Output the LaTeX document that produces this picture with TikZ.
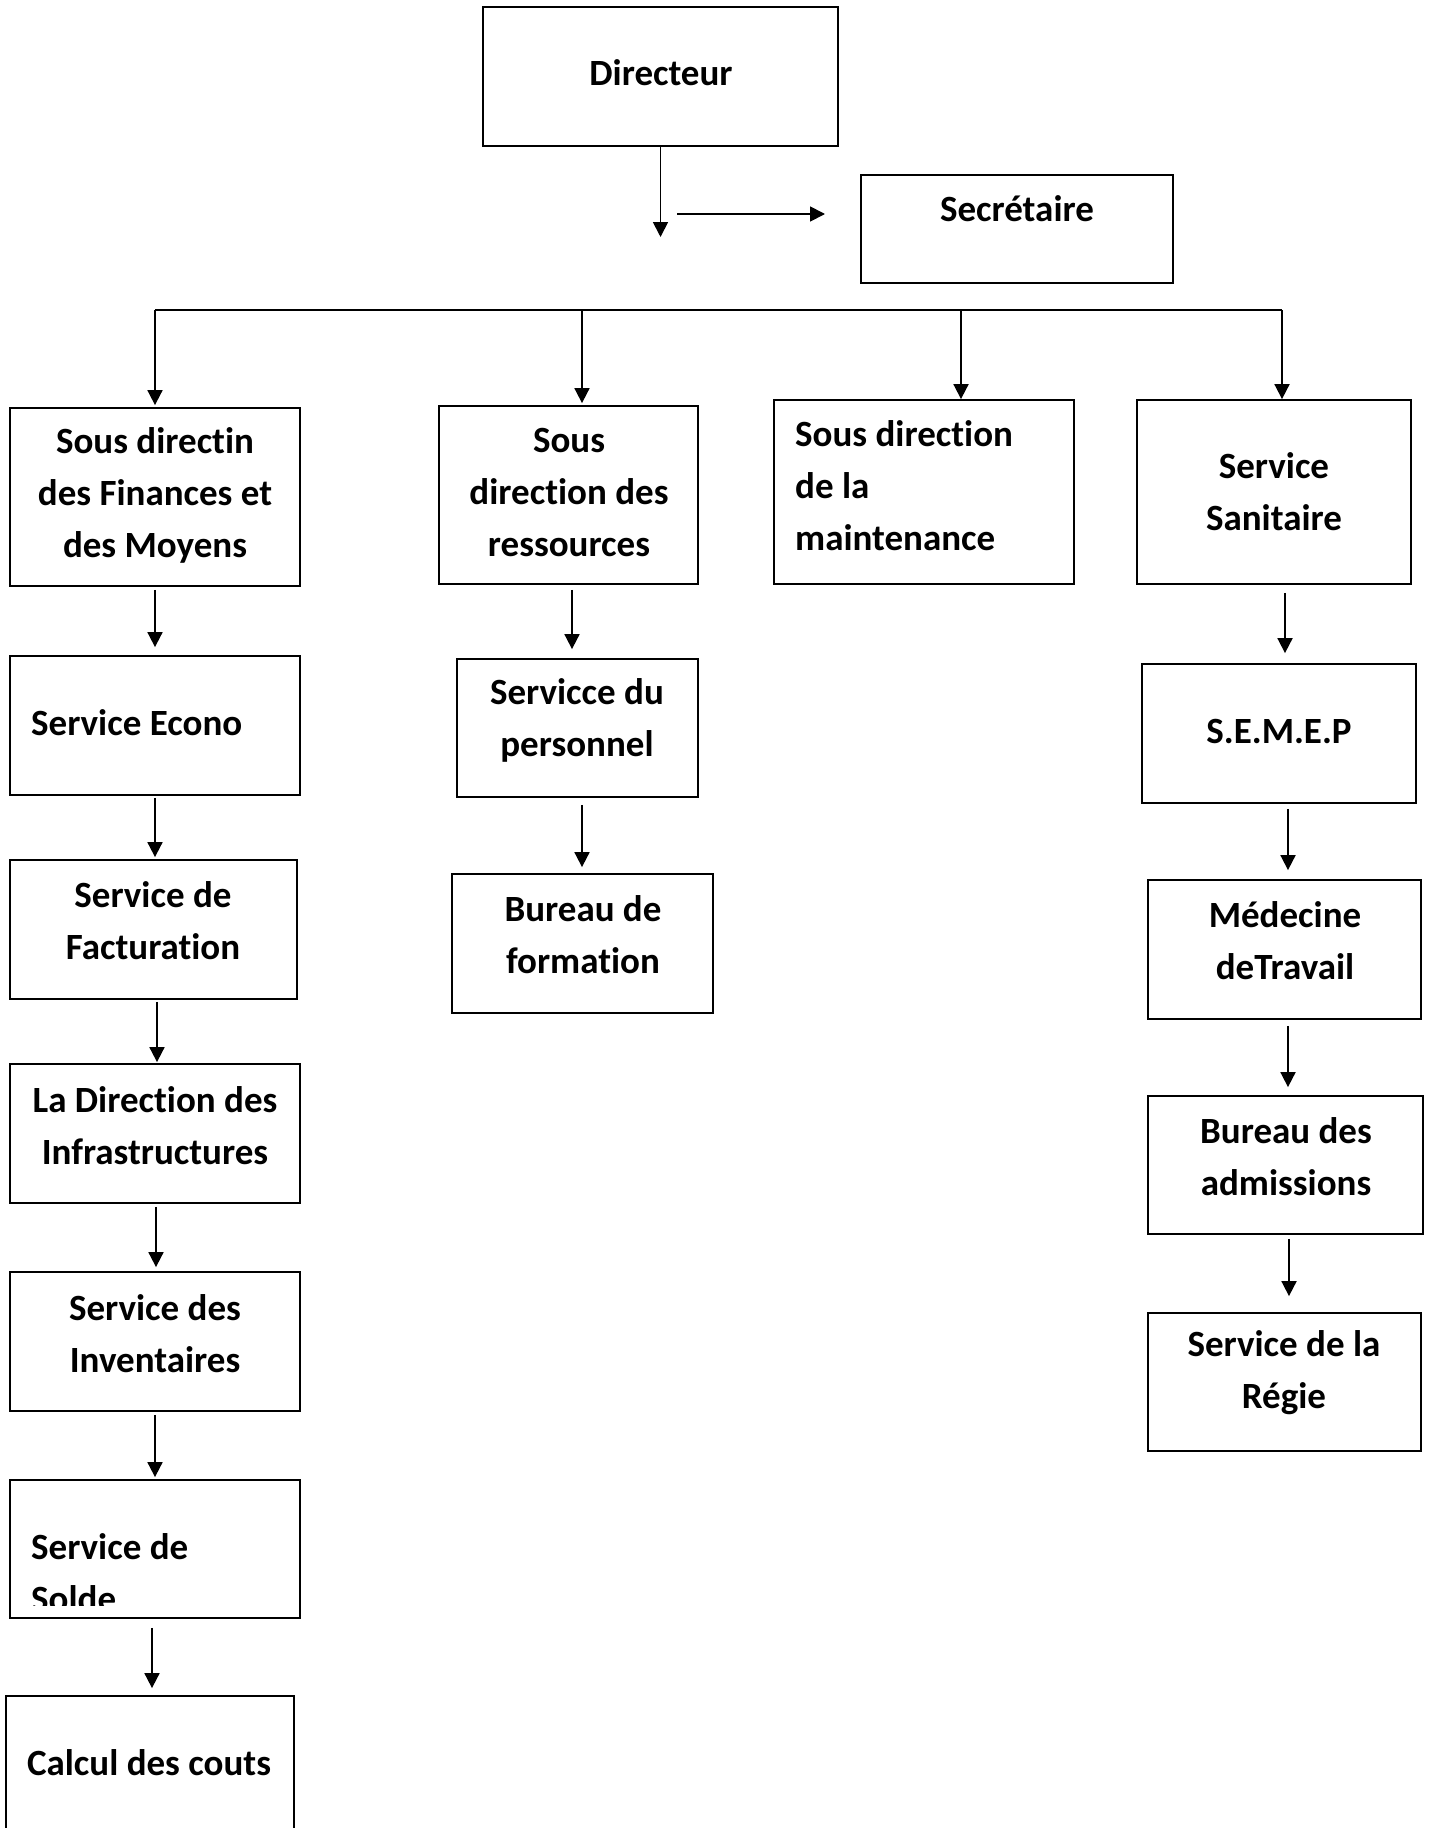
\documentclass[tikz,border=0pt]{standalone}
\usepackage{fontspec}
\setmainfont{Carlito}[Ligatures=NoCommon]
\usetikzlibrary{arrows.meta}
\begin{document}
\begin{tikzpicture}[x=1pt,y=-1pt,
  box/.style={draw,line width=1.8pt,inner sep=0pt,rectangle},
  txt/.style={font=\bfseries\fontsize{37}{52}\selectfont,inner sep=0pt,align=center},
  ltxt/.style={txt,align=left,anchor=west},
  arr/.style={line width=1.8pt,-{Triangle[length=15pt,width=15pt]}},
  ln/.style={line width=1.8pt}]
\clip (0,0) rectangle (1428,1828);
\fill[white] (0,0) rectangle (1428,1828);
% boxes
\node[box,minimum width=355pt,minimum height=139pt] (dir) at (660.5,76.5) {};
\node[box,minimum width=312pt,minimum height=108pt] (sec) at (1017,229) {};
\node[box,minimum width=290pt,minimum height=178pt] (sdf) at (155,497) {};
\node[box,minimum width=259pt,minimum height=178pt] (sdr) at (568.5,495) {};
\node[box,minimum width=300pt,minimum height=184pt] (sdm) at (924,492) {};
\node[box,minimum width=274pt,minimum height=184pt] (ssa) at (1274,492) {};
\node[box,minimum width=290pt,minimum height=139pt] (eco) at (155,725.5) {};
\node[box,minimum width=287pt,minimum height=139pt] (fac) at (153.5,929.5) {};
\node[box,minimum width=290pt,minimum height=139pt] (inf) at (155,1133.5) {};
\node[box,minimum width=290pt,minimum height=139pt] (inv) at (155,1341.5) {};
\node[box,minimum width=290pt,minimum height=138pt] (sol) at (155,1549) {};
\node[box,minimum width=288pt,minimum height=154pt] (cal) at (150,1773) {};
\node[box,minimum width=241pt,minimum height=138pt] (per) at (577.5,728) {};
\node[box,minimum width=261pt,minimum height=139pt] (for) at (582.5,943.5) {};
\node[box,minimum width=274pt,minimum height=139pt] (sem) at (1279,733.5) {};
\node[box,minimum width=273pt,minimum height=139pt] (med) at (1284.5,949.5) {};
\node[box,minimum width=275pt,minimum height=138pt] (adm) at (1285.5,1165) {};
\node[box,minimum width=273pt,minimum height=138pt] (reg) at (1284.5,1382) {};
% texts
\node[txt] (tdir) at (661,73) {Directeur};
\node[txt] (tsec) at (1017,209) {Secrétaire};
\node[txt] (tsdf) at (155,495) {Sous directin\\des Finances et\\des Moyens};
\node[txt] (tsdr) at (569,492) {Sous\\direction des\\ressources};
\node[ltxt] (tsdm) at (795,486) {Sous direction\\de la\\maintenance};
\node[txt] (tssa) at (1274,492) {Service\\Sanitaire};
\node[ltxt] (teco) at (31,723) {Service Econo};
\node[txt] (tfac) at (153,921) {Service de\\Facturation};
\node[txt] (tinf) at (155,1126) {La Direction des\\Infrastructures};
\node[txt] (tinv) at (155,1334) {Service des\\Inventaires};
\begin{scope}
\clip (10,1480) rectangle (300,1605);
\node[ltxt] (tsol) at (31,1573) {Service de\\Solde};
\end{scope}
\node[txt] (tcal) at (149,1763) {Calcul des couts};
\node[txt] (tper) at (577,720) {Servicce du\\personnel};
\node[txt] (tfor) at (583,935) {Bureau de\\formation};
\node[txt] (tsem) at (1279,731) {S.E.M.E.P};
\node[txt] (tmed) at (1285,941) {Médecine\\deTravail};
\node[txt] (tadm) at (1286,1157) {Bureau des\\admissions};
\node[txt] (treg) at (1284,1373) {Service de la\\Régie};
% connectors
\coordinate (dd) at (660.5,237);
\coordinate (h1) at (677,214);
\coordinate (h2) at (825,214);
\coordinate (b1) at (155,310);
\coordinate (b2) at (582,310);
\coordinate (b3) at (961,310);
\coordinate (b4) at (1282,310);
\draw[arr] (dir.south) -- (dd);
\draw[arr] (h1) -- (h2);
\draw[ln] (b1) -- (b4);
\draw[arr] (b1) -- ([yshift=2pt]b1 |- sdf.north);
\draw[arr] (b2) -- ([yshift=2pt]b2 |- sdr.north);
\draw[arr] (b3) -- ([yshift=0pt]b3 |- sdm.north);
\draw[arr] (b4) -- ([yshift=0pt]b4 |- ssa.north);
\draw[arr] ([yshift=-3pt]sdf.south) -- ([yshift=8pt]eco.north);
\draw[arr] ([yshift=-2pt]eco.south) -- ([xshift=1.5pt,yshift=2pt]fac.north);
\draw[arr] ([xshift=3.5pt,yshift=-2pt]fac.south) -- ([xshift=2pt,yshift=1pt]inf.north);
\draw[arr] ([xshift=1pt,yshift=-3pt]inf.south) -- ([xshift=1pt,yshift=4pt]inv.north);
\draw[arr] ([yshift=-3pt]inv.south) -- ([yshift=2pt]sol.north);
\draw[arr] ([xshift=-3pt,yshift=-9pt]sol.south) -- ([xshift=2pt,yshift=7pt]cal.north);
\draw[arr] ([xshift=3.5pt,yshift=-5pt]sdr.south) -- ([xshift=-5.5pt,yshift=9pt]per.north);
\draw[arr] ([xshift=4.5pt,yshift=-7pt]per.south) -- ([xshift=-0.5pt,yshift=6pt]for.north);
\draw[arr] ([xshift=11pt,yshift=-8pt]ssa.south) -- ([xshift=6pt,yshift=10pt]sem.north);
\draw[arr] ([xshift=9pt,yshift=-5pt]sem.south) -- ([xshift=3.5pt,yshift=9pt]med.north);
\draw[arr] ([xshift=3.5pt,yshift=-6pt]med.south) -- ([xshift=2.5pt,yshift=8pt]adm.north);
\draw[arr] ([xshift=3.5pt,yshift=-4pt]adm.south) -- ([xshift=4.5pt,yshift=16pt]reg.north);
\end{tikzpicture}
\end{document}
